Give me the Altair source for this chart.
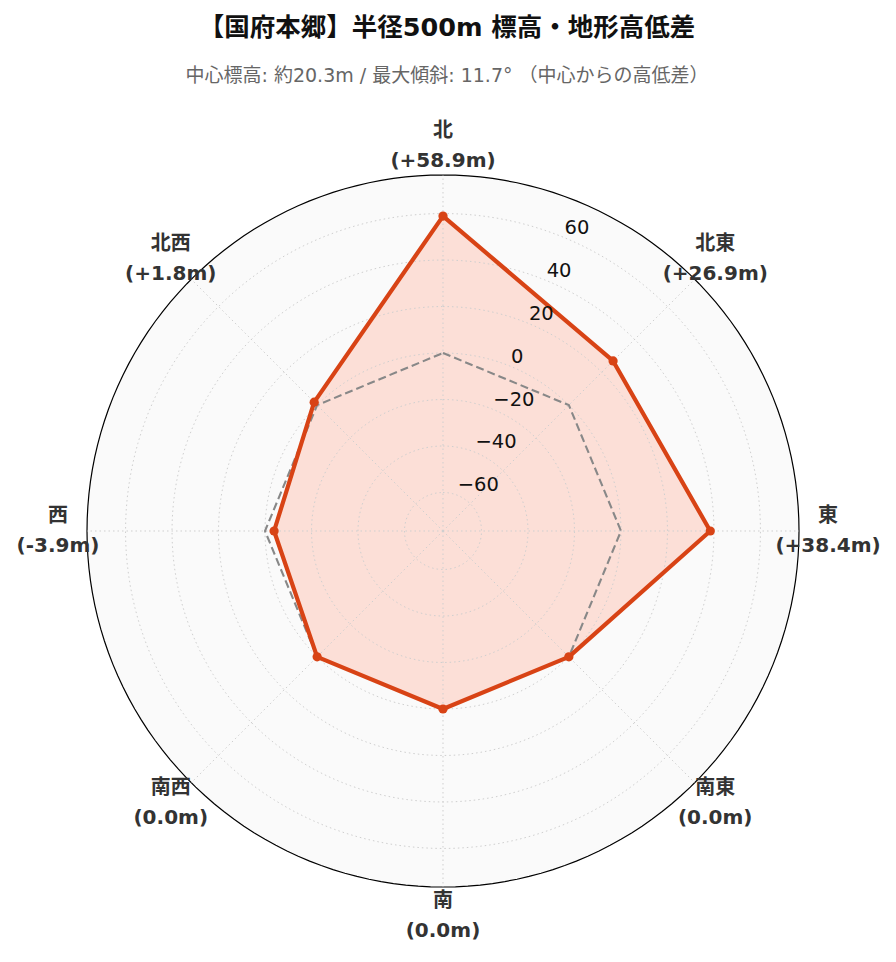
import altair as alt
import pandas as pd

# ---- data ----
directions = ["北", "北東", "東", "南東", "南", "南西", "西", "北西"]
diffs = [58.9, 26.9, 38.4, 0.0, 0.0, 0.0, -3.9, 1.8]
diff_labels = ["(+58.9m)", "(+26.9m)", "(+38.4m)", "(0.0m)", "(0.0m)", "(0.0m)", "(-3.9m)", "(+1.8m)"]
r_ticks = [-60, -40, -20, 0, 20, 40, 60]
r_tick_labels = ["−60", "−40", "−20", "0", "20", "40", "60"]
reference_level = 0.0
title_text = "【国府本郷】半径500m 標高・地形高低差"
subtitle_text = "中心標高: 約20.3m / 最大傾斜: 11.7° （中心からの高低差）"

RMAX = max(abs(v) for v in diffs) * 1.3
N = len(directions)
STEP = 360.0 / N

FONT = "DejaVu Sans, Noto Sans CJK JP"
LINE = "#d84315"
FILL = "#fcdfd7"

# ---- tables ----
poly = pd.DataFrame({
    "i": list(range(N)) + [N],
    "v": diffs + [diffs[0]],
})
pts = pd.DataFrame({"i": list(range(N)), "v": diffs})
ref = pd.DataFrame({"i": list(range(N)) + [N], "v": [reference_level] * (N + 1)})
spokes = pd.DataFrame({"i": list(range(N))})
labels = pd.DataFrame({
    "i": list(range(N)),
    "txt": [d + "\n" + l for d, l in zip(directions, diff_labels)],
})
rings = pd.DataFrame([{"ring": t, "deg": k} for t in r_ticks for k in range(0, 361, 2)])
outer = pd.DataFrame({"deg": list(range(0, 361, 2))})
ticks = pd.DataFrame({"ring": r_ticks, "lab": r_tick_labels})

rexpr = f"(datum.v + {RMAX}) / {2 * RMAX}"

xs = alt.Scale(domain=[-1, 1], nice=False, zero=False)
ys = alt.Scale(domain=[-1, 1], nice=False, zero=False)


def X(f):
    return alt.X(f, type="quantitative", scale=xs, axis=None)


def Y(f):
    return alt.Y(f, type="quantitative", scale=ys, axis=None)


def polar(chart, rexp, degexp):
    return chart.transform_calculate(
        r=rexp, a=f"({degexp}) * PI / 180"
    ).transform_calculate(
        x="datum.r * sin(datum.a)", y="datum.r * cos(datum.a)"
    )


# background disc + outer circle
bg = polar(alt.Chart(outer), "1", "datum.deg").mark_line(
    fill="#fafafa", stroke="black", strokeWidth=1.2
).encode(x=X("x"), y=Y("y"), order=alt.Order("deg:Q"))

# filled polygon
fillp = polar(alt.Chart(poly), rexpr, f"datum.i * {STEP}").mark_line(
    fill=FILL, strokeWidth=0, strokeOpacity=0
).encode(x=X("x"), y=Y("y"), order=alt.Order("i:Q"))

# grid rings
grid = polar(alt.Chart(rings), f"(datum.ring + {RMAX}) / {2 * RMAX}", "datum.deg").mark_line(
    color="#cfcfcf", strokeWidth=1, strokeDash=[1.5, 3]
).encode(x=X("x"), y=Y("y"), detail="ring:N", order=alt.Order("deg:Q"))

# spokes
spk = alt.Chart(spokes).transform_calculate(
    a=f"datum.i * {STEP} * PI / 180"
).transform_calculate(
    x0="0", y0="0", x1="sin(datum.a)", y1="cos(datum.a)"
).mark_rule(color="#cfcfcf", strokeWidth=1, strokeDash=[1.5, 3]).encode(
    x=X("x0"), y=Y("y0"), x2="x1:Q", y2="y1:Q"
)

# reference (0 m) dashed polygon
refl = polar(alt.Chart(ref), rexpr, f"datum.i * {STEP}").mark_line(
    color="#888888", strokeWidth=2.1, strokeDash=[8, 4]
).encode(x=X("x"), y=Y("y"), order=alt.Order("i:Q"))

# main line
line = polar(alt.Chart(poly), rexpr, f"datum.i * {STEP}").mark_line(
    color=LINE, strokeWidth=4.2, strokeJoin="round"
).encode(x=X("x"), y=Y("y"), order=alt.Order("i:Q"))

dots = polar(alt.Chart(pts), rexpr, f"datum.i * {STEP}").mark_point(
    filled=True, color=LINE, size=85, opacity=1
).encode(x=X("x"), y=Y("y"))

# radial tick labels at 22.5 degrees
tlab = polar(alt.Chart(ticks), f"(datum.ring + {RMAX}) / {2 * RMAX}", "22.5").mark_text(
    align="left", baseline="bottom", font="DejaVu Sans", fontSize=19.5, color="#111111"
).encode(x=X("x"), y=Y("y"), text="lab:N")

# direction labels
dlab = polar(alt.Chart(labels), "1.0815", f"datum.i * {STEP}").mark_text(
    align="center", baseline="middle", font=FONT, fontSize=20, fontWeight="bold",
    color="#333333", lineBreak="\n", lineHeight=30, dy=-15
).encode(x=X("x"), y=Y("y"), text="txt:N")

chart = alt.layer(bg, fillp, grid, spk, refl, line, dots, tlab, dlab).properties(
    width=712,
    height=712,
    title=alt.TitleParams(
        text=title_text,
        subtitle=subtitle_text,
        anchor="middle",
        font=FONT,
        fontSize=25.5,
        fontWeight="bold",
        color="#111111",
        subtitleFont=FONT,
        subtitleFontSize=19,
        subtitleColor="#666666",
        subtitlePadding=25,
        offset=35,
        dx=4,
    ),
    autosize=alt.AutoSizeParams(type="none"),
    padding={"left": 79, "top": 167, "right": 89, "bottom": 70},
).configure_view(stroke=None)

chart.save("out.html", embed_options={"renderer": "svg", "actions": False})
